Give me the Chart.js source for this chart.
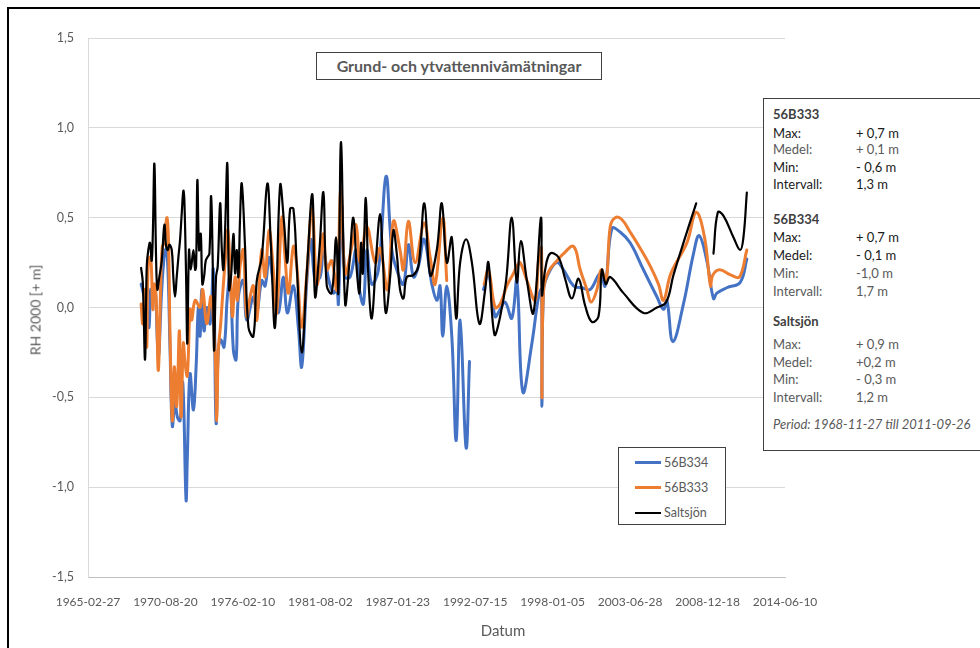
<!DOCTYPE html>
<html lang="sv">
<head>
  <meta charset="UTF-8">
  <title>Grund- och ytvattennivåmätningar</title>
  <script src="https://cdn.jsdelivr.net/npm/chart.js"></script>
  <style>
    * { box-sizing: border-box; margin: 0; padding: 0; }
    body { background: #fff; font-family: 'Lato', sans-serif; overflow: hidden; }
    .wrap { position: relative; width: 980px; height: 648px; }
    canvas { position: absolute; left: 0; top: 0; }
    .frame {
      position: absolute; left: 7px; top: 7px; width: 1000px; height: 700px;
      border: 2.5px solid #000;
    }
    .title-box {
      position: absolute; left: 316px; top: 52px; width: 286px; height: 28px;
      border: 1px solid #404040; background: #fff;
      font-weight: 700; font-size: 16px; color: #595959;
      text-align: center; line-height: 26px;
    }
    .legend-box {
      position: absolute; left: 618px; top: 447px; width: 108px; height: 78px;
      border: 1px solid #404040; background: #fff;
    }
    .legend-row { position: absolute; left: 16px; height: 16px; font-size: 12.5px; color: #595959; line-height: 16px; }
    .legend-row span { display: inline-block; width: 26px; height: 3px; vertical-align: middle; margin-right: 3px; margin-top: -2px; }
    .stats {
      position: absolute; left: 763px; top: 98px; width: 260px; height: 353px;
      border: 1px solid #404040; background: #fff;
    }
    .stats div { position: absolute; left: 9px; height: 16px; line-height: 16px; font-size: 13px; white-space: nowrap; }
    .stats b { font-weight: 700; color: #404040; }
    .stats .v { position: absolute; left: 83px; }
    .dark { color: #1a1a1a; }
    .grey { color: #595959; }
    .x-title { position: absolute; left: 440px; width: 126px; top: 621px; text-align: center; font-size: 15px; color: #595959; }
    .y-title {
      position: absolute; left: 35px; top: 310px; font-size: 14px; color: #595959;
      transform: translate(-50%, -50%) rotate(-90deg); white-space: nowrap;
    }
  </style>
</head>
<body>
  <div class="wrap">
    <canvas id="chart" width="980" height="648"></canvas>
    <div class="frame"></div>
    <div class="title-box">Grund- och ytvattennivåmätningar</div>
    <div class="legend-box">
      <div class="legend-row" style="top:7px"><span style="background:#4472C4"></span>56B334</div>
      <div class="legend-row" style="top:32px"><span style="background:#ED7D31"></span>56B333</div>
      <div class="legend-row" style="top:57px"><span style="background:#000;height:2px"></span>Saltsjön</div>
    </div>
    <div class="stats">
      <div style="top:7px"><b>56B333</b></div>
      <div class="dark" style="top:26px">Max:<span class="v">+ 0,7 m</span></div>
      <div class="grey" style="top:42px">Medel:<span class="v">+ 0,1 m</span></div>
      <div class="dark" style="top:60px">Min:<span class="v">- 0,6 m</span></div>
      <div class="dark" style="top:77px">Intervall:<span class="v">1,3 m</span></div>
      <div style="top:112px"><b>56B334</b></div>
      <div class="dark" style="top:130px">Max:<span class="v">+ 0,7 m</span></div>
      <div class="dark" style="top:148px">Medel:<span class="v">- 0,1 m</span></div>
      <div class="grey" style="top:166px">Min:<span class="v">-1,0 m</span></div>
      <div class="grey" style="top:184px">Intervall:<span class="v">1,7 m</span></div>
      <div style="top:214px"><b>Saltsjön</b></div>
      <div class="grey" style="top:237px">Max:<span class="v">+ 0,9 m</span></div>
      <div class="grey" style="top:255px">Medel:<span class="v">+0,2 m</span></div>
      <div class="grey" style="top:272px">Min:<span class="v">- 0,3 m</span></div>
      <div class="grey" style="top:290px">Intervall:<span class="v">1,2 m</span></div>
      <div class="grey" style="top:317px;font-style:italic">Period: 1968-11-27 till 2011-09-26</div>
    </div>
    <div class="x-title">Datum</div>
    <div class="y-title">RH 2000 [+ m]</div>
  </div>

  <script>
    // dates as decimal years, levels in m (RH 2000)
    const salYears = [
      1968.91,1969.03,1969.19,1969.31,1969.42,1969.54,1969.66,1969.74,1969.85,1969.97,
      1970.06,1970.20,1970.37,1970.56,1970.68,1970.80,1970.91,1971.08,1971.19,1971.31,
      1971.43,1971.55,1971.67,1971.79,1971.90,1971.97,1972.09,1972.18,1972.30,1972.42,
      1972.61,1972.73,1972.80,1972.89,1973.01,1973.13,1973.24,1973.36,1973.48,1973.60,
      1973.74,1973.86,1973.98,1974.07,1974.21,1974.33,1974.50,1974.62,1974.73,1974.85,
      1975.01,1975.13,1975.27,1975.44,1975.56,1975.68,1975.79,1975.91,1976.03,1976.26,
      1976.50,1976.85,1977.09,1977.44,1977.84,1978.08,1978.38,1978.74,1979.02,1979.25,
      1979.45,1979.68,1979.92,1980.27,1980.63,1981.02,1981.21,1981.52,1981.80,1982.04,
      1982.39,1982.70,1982.86,1983.05,1983.34,1983.64,1983.92,1984.16,1984.35,1984.47,
      1984.59,1984.80,1984.98,1985.22,1985.53,1985.81,1986.00,1986.21,1986.52,1986.75,
      1986.99,1987.22,1987.46,1987.70,1988.17,1988.52,1988.94,1989.35,1989.82,1990.17,
      1990.53,1990.88,1991.19,1991.47,1991.89,1992.30,1992.83,1993.24,1993.47,1993.89,
      1994.30,1994.72,1995.12,1995.48,1995.76,1996.19,1996.65,1997.18,1997.25,1997.48,
      1997.83,1998.42,1998.89,1999.37,1999.84,2000.31,2000.78,2001.25,2001.49,2001.77,
      2002.08,2003.02,2004.43,2005.38,2006.04,2006.55,2007.38,2008.16,2008.80,
      2009.38,2009.69,2010.09,2010.80,2011.27,2011.50,2011.74
    ];
    const salLevels = [
      0.22,0.14,-0.29,0.23,0.32,0.36,0.26,0.41,0.80,0.28,
      0.10,0.17,0.26,0.46,0.34,0.32,0.35,0.32,0.17,0.06,
      0.17,0.28,0.38,0.53,0.65,0.60,0.19,-0.20,0.32,0.21,
      0.32,0.21,0.23,0.71,0.32,0.41,0.13,0.17,0.26,0.28,
      0.30,0.62,0.23,-0.24,0.17,0.23,0.58,0.32,0.21,0.43,
      0.80,0.10,0.17,0.41,0.19,0.32,0.17,0.50,0.69,0.34,
      -0.11,-0.16,0.15,0.28,0.69,0.36,-0.11,0.68,0.47,0.25,
      0.55,0.55,0.23,-0.25,0.20,0.63,0.06,0.32,0.64,0.12,
      0.08,0.39,0.08,0.92,0.02,0.25,0.50,0.21,0.08,0.36,
      0.19,0.61,0.17,-0.06,0.28,0.52,0.28,-0.03,0.17,0.43,
      0.30,0.10,0.05,0.17,0.18,0.23,0.58,0.18,0.32,0.58,
      0.25,0.39,-0.06,0.25,0.38,0.25,-0.09,0.10,0.25,-0.15,
      -0.05,0.15,0.50,0.14,0.37,0.15,-0.03,0.50,0.07,0.21,
      0.30,0.28,0.16,0.05,0.16,0.01,-0.08,-0.05,0.21,0.13,
      0.17,0.08,-0.03,0.00,0.03,0.18,0.39,0.58,null,
      0.30,0.53,0.51,0.39,0.32,0.39,0.64
    ];

    const b333Years = [
      1968.91,1969.03,1969.19,1969.31,1969.42,1969.59,1969.74,1969.83,1969.97,1970.13,
      1970.30,1970.41,1970.56,1970.73,1970.84,1970.96,1971.12,1971.26,1971.43,1971.62,
      1971.74,1971.90,1972.02,1972.18,1972.37,1972.49,1972.73,1973.08,1973.27,1973.55,
      1973.86,1974.14,1974.26,1974.37,1974.54,1974.73,1974.92,1975.04,1975.20,1975.37,
      1975.56,1975.72,1975.91,1976.14,1976.38,1976.62,1976.85,1977.09,1977.44,1977.68,
      1977.96,1978.26,1978.50,1978.86,1979.09,1979.33,1979.68,1979.92,1980.27,1980.63,
      1981.00,1981.33,1981.57,1981.80,1982.04,1982.39,1982.75,1983.03,1983.34,1983.81,
      1984.11,1984.40,1984.87,1985.46,1985.81,1986.33,1986.75,1987.22,1987.46,1987.81,
      1988.29,1988.92,1989.35,1989.70,1990.24,1990.52,1991.80,1993.17,1993.47,1993.94,
      1994.30,1994.77,1995.24,1995.48,1995.71,1996.19,1996.77,1997.01,1997.22,1997.25,
      1997.37,1997.72,1998.31,1998.78,1999.49,1999.96,2000.43,2000.73,2001.14,2001.44,
      2001.79,2002.08,2002.43,2002.90,2003.49,2004.20,2004.91,2005.49,2005.85,2006.37,
      2007.50,2008.16,2008.75,2009.17,2009.33,2009.81,2010.63,2011.22,2011.74
    ];
    const b333Levels = [
      0.02,-0.09,0.10,-0.22,0.26,0.28,-0.01,0.13,0.06,-0.35,
      0.13,0.34,0.36,0.50,0.39,-0.16,-0.63,-0.33,-0.55,-0.13,
      -0.61,-0.20,-0.31,-0.38,-0.01,-0.07,0.04,0.00,0.10,-0.09,
      0.06,-0.25,-0.63,-0.24,-0.09,0.13,0.32,0.43,0.23,-0.05,
      0.17,0.04,0.23,0.32,-0.05,0.06,0.12,-0.07,0.32,0.17,
      0.43,0.21,-0.03,0.50,0.28,0.08,0.34,0.23,-0.11,0.19,
      0.55,0.13,0.23,0.41,0.21,0.26,0.10,0.66,0.19,0.34,
      0.46,0.25,0.45,0.25,0.33,0.10,0.48,0.32,0.21,0.48,
      0.25,0.47,0.28,0.13,0.50,0.15,null,0.13,0.21,0.00,
      0.02,0.12,0.19,0.23,0.25,0.15,0.04,0.26,0.33,-0.50,
      0.10,0.20,0.26,0.30,0.34,0.21,0.10,0.03,0.10,0.21,
      0.15,0.45,0.50,0.49,0.42,0.33,0.23,0.13,0.04,0.19,
      0.36,0.53,0.39,0.12,0.18,0.21,0.18,0.17,0.32
    ];

    const b334Years = [
      1968.91,1969.07,1969.31,1969.47,1969.59,1969.74,1969.90,1970.13,1970.37,1970.61,
      1970.77,1970.96,1971.12,1971.31,1971.48,1971.67,1971.86,1972.09,1972.18,1972.37,
      1972.61,1972.80,1972.96,1973.08,1973.20,1973.36,1973.55,1973.79,1974.02,1974.21,
      1974.37,1974.54,1974.78,1975.01,1975.20,1975.44,1975.63,1975.79,1976.14,1976.38,
      1976.85,1977.09,1977.44,1977.68,1977.96,1978.26,1978.62,1978.97,1979.25,1979.68,
      1980.03,1980.27,1980.63,1980.93,1981.21,1981.57,1981.80,1982.16,1982.51,1982.75,
      1982.86,1983.10,1983.34,1983.69,1984.11,1984.35,1984.63,1984.87,1985.22,1985.69,
      1986.23,1986.64,1986.99,1987.46,1987.81,1988.17,1988.52,1988.92,1989.47,1989.82,
      1990.05,1990.24,1990.52,1990.88,1991.19,1991.47,1991.89,1992.13,1992.60,1993.12,
      1993.47,1993.94,1994.30,1994.65,1995.12,1995.48,1995.90,1996.54,1997.01,1997.22,
      1997.25,1997.37,1997.72,1998.31,1998.78,1999.49,2000.08,2000.66,2001.37,2001.72,
      2002.20,2002.78,2003.49,2004.43,2005.38,2005.85,2006.09,2006.51,2007.26,2007.97,
      2008.37,2008.91,2009.38,2009.62,2010.32,2011.27,2011.74
    ];
    const b334Levels = [
      0.13,0.08,-0.01,-0.11,0.10,0.06,0.12,-0.27,0.10,0.32,
      0.28,-0.24,-0.66,-0.53,-0.61,-0.63,-0.42,-1.07,-0.84,-0.37,
      -0.57,-0.33,0.00,-0.16,0.10,-0.13,0.00,-0.09,0.21,-0.64,
      -0.24,-0.18,-0.22,0.06,0.17,-0.24,-0.29,0.06,0.15,-0.07,
      0.06,-0.03,0.15,0.12,0.28,0.13,-0.03,0.17,-0.03,0.12,
      -0.11,-0.33,0.15,0.38,0.15,0.17,0.32,0.16,0.08,0.10,
      0.02,0.56,0.17,0.17,0.32,0.10,0.02,0.32,0.13,0.21,
      0.73,0.32,0.21,0.13,0.35,0.17,0.23,0.38,0.13,0.04,
      0.12,-0.16,0.12,-0.16,-0.74,-0.07,-0.78,-0.30,null,0.10,
      0.19,-0.05,-0.01,0.03,-0.06,0.15,-0.47,-0.20,0.06,0.10,
      -0.55,0.10,0.19,0.25,0.21,0.12,0.11,0.10,0.19,0.12,
      0.44,0.42,0.36,0.21,0.06,-0.01,0.04,-0.19,0.02,0.30,
      0.40,0.26,0.05,0.08,0.11,0.14,0.27
    ];

    const yTicks = [-1.5, -1.0, -0.5, 0.0, 0.5, 1.0, 1.5];
    const xStart = Date.UTC(1965, 1, 27);   // 1965-02-27
    const xStepDays = 2000;
    const xTickCount = 9;

    const DAY = 86400000;

    // decimal year -> days after 1965-02-27
    function toDays(y) {
      const yr = Math.floor(y);
      const a = Date.UTC(yr, 0, 1), b = Date.UTC(yr + 1, 0, 1);
      return (a + (y - yr) * (b - a) - xStart) / DAY;
    }

    function points(years, levels) {
      return years.map((y, i) => ({ x: toDays(y), y: levels[i] }));
    }

    Chart.defaults.font.family = "'Lato', sans-serif";

    new Chart(document.getElementById("chart"), {
      type: "line",
      data: {
        datasets: [
          {
            label: "56B334",
            data: points(b334Years, b334Levels),
            borderColor: "#4472C4",
            borderWidth: 3,
            order: 2
          },
          {
            label: "56B333",
            data: points(b333Years, b333Levels),
            borderColor: "#ED7D31",
            borderWidth: 3,
            order: 1
          },
          {
            label: "Saltsjön",
            data: points(salYears, salLevels),
            borderColor: "#000000",
            borderWidth: 2.2,
            order: 0
          }
        ]
      },
      options: {
        responsive: false,
        animation: false,
        devicePixelRatio: 1,
        parsing: false,
        spanGaps: false,
        elements: {
          point: { radius: 0 },
          line: { tension: 0.4, borderJoinStyle: "round", borderCapStyle: "round", fill: false }
        },
        layout: { padding: { left: 0, right: 195, top: 38, bottom: 0 } },
        plugins: { legend: { display: false }, tooltip: { enabled: false }, title: { display: false } },
        scales: {
          x: {
            type: "linear",
            min: 0,
            max: xStepDays * xTickCount,
            afterFit: s => { s.height = 71; },
            grid: { display: false },
            border: { display: true, color: "#BFBFBF", width: 1 },
            ticks: {
              stepSize: xStepDays,
              padding: 10,
              maxRotation: 0,
              autoSkip: false,
              color: "#595959",
              font: { size: 12 },
              callback: v => new Date(xStart + v * DAY).toISOString().slice(0, 10)
            }
          },
          y: {
            min: yTicks[0],
            max: yTicks[yTicks.length - 1],
            afterFit: s => { s.width = 88; },
            afterBuildTicks: s => { s.ticks = yTicks.map(v => ({ value: v })); },
            grid: { color: "#D9D9D9", drawTicks: false, lineWidth: 1 },
            border: { display: true, color: "#D9D9D9", width: 1 },
            ticks: {
              padding: 14,
              color: "#595959",
              font: { size: 12.5 },
              callback: v => v.toFixed(1).replace(".", ",")
            }
          }
        }
      }
    });
  </script>
</body>
</html>
